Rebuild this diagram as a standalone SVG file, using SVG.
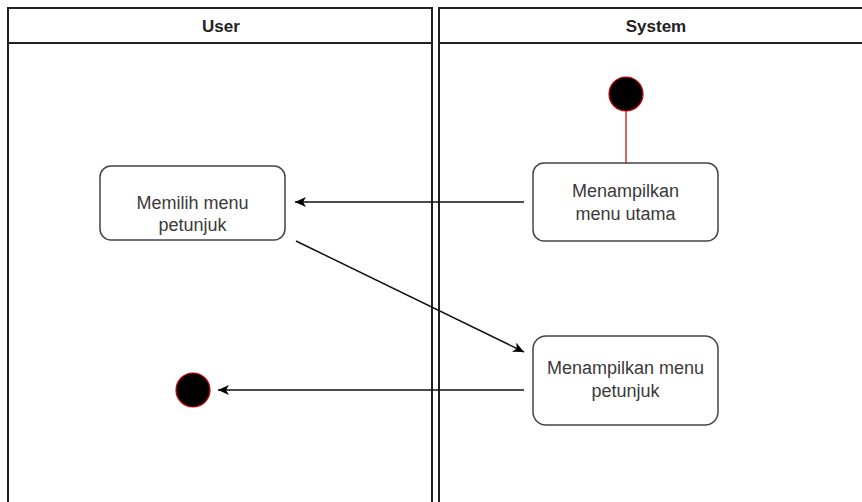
<svg xmlns="http://www.w3.org/2000/svg" width="862" height="502" viewBox="0 0 862 502">
  <defs>
    <marker id="arrow" markerWidth="12" markerHeight="10" refX="11" refY="5" orient="auto" markerUnits="userSpaceOnUse">
      <path d="M0,0 L11,5 L0,10 L3,5 Z" fill="#000"/>
    </marker>
    <style>
      .lane { fill: none; stroke: #222; stroke-width: 2; }
      .head { font-family: "Liberation Sans", Arial, sans-serif; font-size: 17px; font-weight: bold; fill: #222; text-anchor: middle; }
      .box { fill: #fff; stroke: #444; stroke-width: 1.5; }
      .label { font-family: "Liberation Sans", Arial, sans-serif; font-size: 18px; fill: #3a3a3a; text-anchor: middle; }
      .dot { fill: #000; stroke: #c00; stroke-width: 1.2; }
      .edge { fill: none; stroke: #111; stroke-width: 1.5; }
    </style>
  </defs>
  <rect width="862" height="502" fill="#fff"/>

  <!-- swimlanes -->
  <g id="lane-user">
    <path class="lane" d="M8,502 V8 H432 V502"/>
    <line class="lane" x1="8" y1="43" x2="432" y2="43"/>
    <text class="head" x="221" y="32">User</text>
  </g>
  <g id="lane-system">
    <path class="lane" d="M439,502 V8 H862"/>
    <line class="lane" x1="439" y1="43" x2="862" y2="43"/>
    <text class="head" x="656" y="32">System</text>
  </g>

  <!-- connectors -->
  <g id="connectors">
    <line x1="626" y1="111" x2="626" y2="163" stroke="#c33" stroke-width="1.5"/>
    <line class="edge" x1="524" y1="202" x2="295" y2="202" marker-end="url(#arrow)"/>
    <line class="edge" x1="296" y1="241" x2="524" y2="352" marker-end="url(#arrow)"/>
    <line class="edge" x1="524" y1="390" x2="218" y2="390" marker-end="url(#arrow)"/>
  </g>

  <g id="start">
    <circle class="dot" cx="626" cy="94" r="17"/>
  </g>
  <g id="menu-utama">
    <rect class="box" x="533" y="163" width="185" height="78" rx="11"/>
    <text class="label" x="625.5" y="197">Menampilkan</text>
    <text class="label" x="625.5" y="220">menu utama</text>
  </g>
  <g id="pilih-petunjuk">
    <rect class="box" x="100" y="166" width="185" height="74" rx="11"/>
    <text class="label" x="192.5" y="209">Memilih menu</text>
    <text class="label" x="192.5" y="231">petunjuk</text>
  </g>
  <g id="menu-petunjuk">
    <rect class="box" x="533" y="336" width="185" height="89" rx="13"/>
    <text class="label" x="625.5" y="374">Menampilkan menu</text>
    <text class="label" x="625.5" y="397">petunjuk</text>
  </g>
  <g id="end">
    <circle class="dot" cx="193" cy="390" r="17"/>
  </g>
</svg>
